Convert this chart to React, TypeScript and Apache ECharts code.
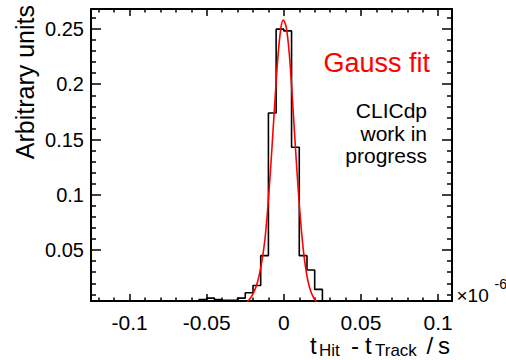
import React, { useEffect, useRef } from "react";
import * as echarts from "echarts";

// Histogram: left bin edges (x 1e-6 s) and bin contents
const histEdges = [-0.07, -0.065, -0.06, -0.055, -0.05, -0.045, -0.04, -0.035, -0.03, -0.025, -0.02, -0.015, -0.01, -0.005, 0, 0.005, 0.01, 0.015, 0.02, 0.025, 0.03, 0.035, 0.04];
const histValues = [0.003, 0.003, 0.003, 0.0054, 0.0066, 0.0054, 0.0046, 0.0046, 0.0066, 0.0115, 0.018, 0.045, 0.174, 0.2498, 0.2482, 0.143, 0.045, 0.032, 0.0145, 0.003, 0.002, 0.002, 0.002];

// Gauss fit curve
const fitX = [-0.027, -0.024, -0.022, -0.02, -0.018, -0.016, -0.014, -0.012, -0.01, -0.008, -0.006, -0.004, -0.002, -0.0004, 0.0015, 0.0035, 0.0055, 0.0075, 0.0095, 0.0115, 0.0135, 0.0155, 0.0175, 0.0195, 0.0215, 0.024];
const fitY = [0.001, 0.003, 0.006, 0.0105, 0.017, 0.027, 0.042, 0.063, 0.096, 0.136, 0.18, 0.222, 0.25, 0.258, 0.252, 0.228, 0.188, 0.143, 0.101, 0.066, 0.04, 0.023, 0.0125, 0.0065, 0.003, 0.001];

// Axis ticks
const xMajorTicks = [-0.1, -0.05, 0, 0.05, 0.1];
const xMinorTicks = [-0.12, -0.11, -0.09, -0.08, -0.07, -0.06, -0.04, -0.03, -0.02, -0.01, 0.01, 0.02, 0.03, 0.04, 0.06, 0.07, 0.08, 0.09];
const yMajorTicks = [0.05, 0.1, 0.15, 0.2, 0.25];
const yMinorTicks = [0.01, 0.02, 0.03, 0.04, 0.06, 0.07, 0.08, 0.09, 0.11, 0.12, 0.13, 0.14, 0.16, 0.17, 0.18, 0.19, 0.21, 0.22, 0.23, 0.24, 0.26];

const X_MIN = -0.125;
const X_MAX = 0.109;
const Y_MIN = 0.004;
const Y_MAX = 0.268;

const FONT = "'Liberation Sans', Arial, Helvetica, sans-serif";

function xAxisDef(position: string, ticks: number[], len: number, major: boolean, labels: boolean) {
  return {
    type: "value",
    position,
    min: X_MIN,
    max: X_MAX,
    axisLine: { show: major, onZero: false, lineStyle: { color: "#000", width: 2 } },
    axisTick: { show: true, inside: true, length: len, customValues: ticks, lineStyle: { color: "#000", width: 1.5 } },
    axisLabel: {
      show: labels,
      customValues: ticks,
      margin: 11,
      fontSize: 21,
      color: "#000",
      fontFamily: FONT,
      formatter: (v: number) => String(v),
    },
    splitLine: { show: false },
  };
}

function yAxisDef(position: string, ticks: number[], len: number, major: boolean, labels: boolean) {
  return {
    type: "value",
    position,
    min: Y_MIN,
    max: Y_MAX,
    axisLine: { show: major, onZero: false, lineStyle: { color: "#000", width: 2 } },
    axisTick: { show: true, inside: true, length: len, customValues: ticks, lineStyle: { color: "#000", width: 1.5 } },
    axisLabel: {
      show: labels,
      customValues: ticks,
      margin: 7,
      fontSize: 20,
      color: "#000",
      fontFamily: FONT,
      formatter: (v: number) => String(v),
    },
    splitLine: { show: false },
  };
}

export default function App() {
  const ref = useRef<HTMLDivElement>(null);

  useEffect(() => {
    if (!ref.current) return;
    const chart = echarts.init(ref.current, null, { renderer: "svg" });

    const histData = histEdges.map((x, i) => [x, histValues[i]]);
    const fitData = fitX.map((x, i) => [x, fitY[i]]);

    const txt = (text: string, x: number, y: number, fontSize: number, align: string, fill = "#000", extra: any = {}) => ({
      type: "text",
      x,
      y,
      silent: true,
      ...extra,
      style: { text, fontSize, fontFamily: FONT, fill, align, verticalAlign: "middle" },
    });

    chart.setOption({
      animation: false,
      backgroundColor: "#fff",
      grid: { left: 91, right: 54, top: 9, bottom: 59, containLabel: false, outerBoundsMode: "none" },
      xAxis: [
        xAxisDef("bottom", xMajorTicks, 7, true, true),
        xAxisDef("bottom", xMinorTicks, 3.5, false, false),
        xAxisDef("top", xMajorTicks, 7, true, false),
        xAxisDef("top", xMinorTicks, 3.5, false, false),
      ],
      yAxis: [
        yAxisDef("left", yMajorTicks, 10, true, true),
        yAxisDef("left", yMinorTicks, 5, false, false),
        yAxisDef("right", yMajorTicks, 10, true, false),
        yAxisDef("right", yMinorTicks, 5, false, false),
      ],
      series: [
        {
          type: "line",
          xAxisIndex: 0,
          yAxisIndex: 0,
          data: histData,
          step: "end",
          showSymbol: false,
          symbol: "none",
          clip: true,
          lineStyle: { color: "#000", width: 1.6 },
          z: 2,
        },
        {
          type: "line",
          xAxisIndex: 0,
          yAxisIndex: 0,
          data: fitData,
          smooth: 0.3,
          showSymbol: false,
          symbol: "none",
          clip: true,
          lineStyle: { color: "#ff0000", width: 1.6 },
          z: 3,
        },
      ],
      graphic: [
        txt("Arbitrary units", 25, 5, 25, "right", "#000", { rotation: Math.PI / 2 }),
        txt("Gauss fit", 430, 63, 27, "right", "#ff0000"),
        txt("CLICdp", 427, 110, 21, "right"),
        txt("work in", 427, 133, 21, "right"),
        txt("progress", 427, 155.5, 21, "right"),
        txt("t", 310, 345, 24, "left"),
        txt("Hit", 319, 350.5, 17, "left"),
        txt("-", 351, 345, 24, "left"),
        txt("t", 365, 345, 24, "left"),
        txt("Track", 375, 350.5, 17, "left"),
        txt("/", 426.5, 345, 24, "left"),
        txt("s", 438, 345, 24, "left"),
        txt("\u00d710", 456.5, 295, 19, "left"),
        txt("-6", 494.5, 284, 14, "left"),
        txt("g", 181, -14, 24, "left", "#1a1aff"),
      ],
    });

    return () => chart.dispose();
  }, []);

  return (
    <div
      ref={ref}
      style={{ position: "fixed", left: 0, top: 0, width: 506, height: 360 }}
    />
  );
}
